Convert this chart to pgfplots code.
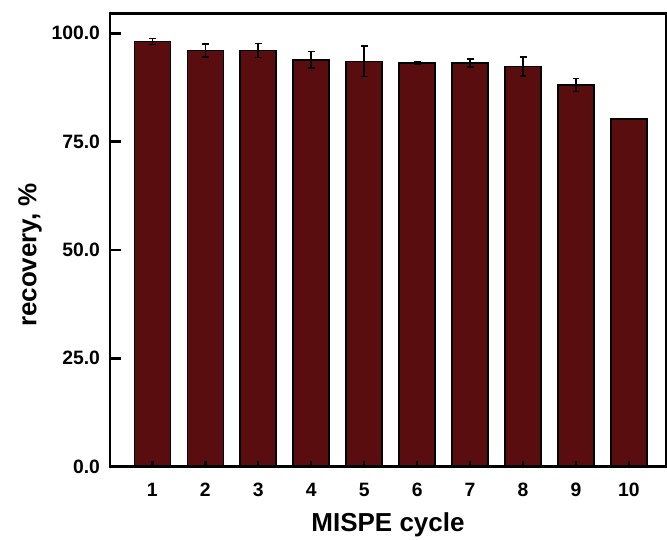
\documentclass[border=0pt]{standalone}
\usepackage{fontspec}
\setmainfont{Liberation Sans}
\usepackage{pgfplots}
\pgfplotsset{compat=1.18}
\definecolor{barred}{RGB}{90,13,15}
\begin{document}
\begin{tikzpicture}
\useasboundingbox (-82.5pt,-54.75pt) rectangle (417.75pt,350pt);
\begin{axis}[
  name=main,
  at={(0,0)}, anchor=south west,
  scale only axis,
  width=417pt, height=340pt,
  xmin=0.2, xmax=10.7,
  ymin=0, ymax=104.6,
  axis on top,
  axis line style={line width=2pt},
  tick align=inside,
  major tick length=4pt,
  xtick={1,2,3,4,5,6,7,8,9,10},
  xticklabels={1,2,3,4,5,6,7,8,9,10},
  ytick={0,25,50,75,100},
  yticklabels={0.0,25.0,50.0,75.0,100.0},
  xtick pos=left, ytick pos=left,
  xtick style={draw=black, line width=1.8pt},
  ytick style={draw=black, line width=2pt},
  ticklabel style={font=\fontsize{14.5}{17}\selectfont\bfseries},
  yticklabel style={xshift=-4pt},
  xticklabel style={yshift=-9pt},
  xlabel={MISPE cycle},
  ylabel={recovery, \%},
  label style={font=\fontsize{19.5}{22}\selectfont\bfseries},
  xlabel style={at={(axis description cs:0.5,-0.128)}, anchor=center},
  ylabel style={at={(axis description cs:-0.144,0.467)}, anchor=center},
]
\addplot[ybar, bar width=27pt, fill=barred, draw=black, line width=1.2pt,
  error bars/.cd, y dir=both, y explicit,
  error bar style={line width=1.2pt, black},
  error mark options={rotate=90, mark size=2.6pt, line width=1.2pt, black}]
coordinates {
 (1,98.1) +- (0,0.7)
 (2,96.0) +- (0,1.5)
 (3,96.0) +- (0,1.6)
 (4,93.9) +- (0,1.9)
 (5,93.5) +- (0,3.5)
 (6,93.1) +- (0,0.3)
 (7,93.1) +- (0,0.9)
 (8,92.3) +- (0,2.2)
 (9,88.1) +- (0,1.5)
 (10,80.2) +- (0,0)
};
\end{axis}
\foreach \yy in {81.26pt,162.52pt,243.79pt,325.05pt}{
  \draw[line width=2pt, black, line cap=butt] (0pt,\yy) -- (8.25pt,\yy);
}
\end{tikzpicture}
\end{document}
